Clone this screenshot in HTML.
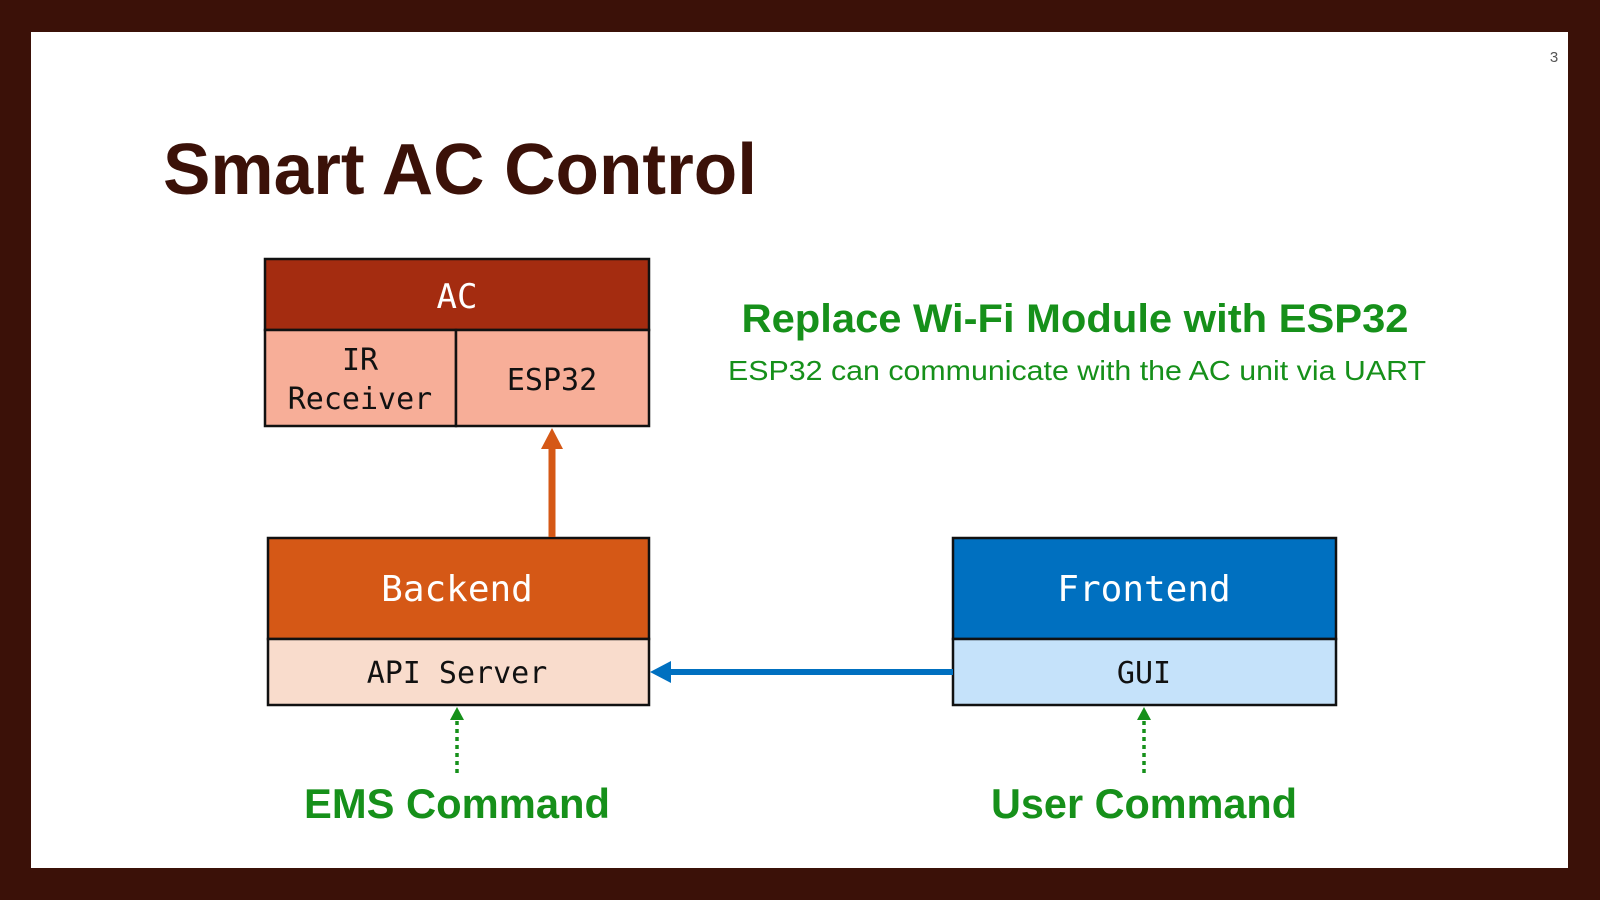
<!DOCTYPE html>
<html><head><meta charset="utf-8"><style>
html,body{margin:0;padding:0;background:#3b1108;}
svg{display:block}
</style></head><body>
<svg width="1600" height="900" viewBox="0 0 1600 900" xmlns="http://www.w3.org/2000/svg">
<rect x="0" y="0" width="1600" height="900" fill="#3b1108"/>
<rect x="31" y="32" width="1537" height="836" fill="#ffffff"/>
<text x="1554" y="62" font-family="Liberation Sans, sans-serif" font-size="15" fill="#555" text-anchor="middle">3</text>
<text x="163" y="194" font-family="Liberation Sans, sans-serif" font-weight="bold" font-size="72" fill="#3b1108" textLength="594" lengthAdjust="spacingAndGlyphs">Smart AC Control</text>

<g font-family="DejaVu Sans Mono, Liberation Mono, monospace" text-anchor="middle">
<rect x="265" y="259" width="384" height="71" fill="#a42c10" stroke="#111" stroke-width="2.5"/>
<rect x="265" y="330" width="191" height="96" fill="#f7ae98" stroke="#111" stroke-width="2.5"/>
<rect x="456" y="330" width="193" height="96" fill="#f7ae98" stroke="#111" stroke-width="2.5"/>
<text x="457" y="308" font-size="34" fill="#fff">AC</text>
<text x="360" y="370" font-size="30" fill="#111">IR</text>
<text x="360" y="409" font-size="30" fill="#111">Receiver</text>
<text x="552" y="390" font-size="30" fill="#111">ESP32</text>
<rect x="268" y="538" width="381" height="101" fill="#d55816" stroke="#111" stroke-width="2.5"/>
<rect x="268" y="639" width="381" height="66" fill="#f9dccc" stroke="#111" stroke-width="2.5"/>
<text x="457" y="601" font-size="36" fill="#fff">Backend</text>
<text x="457" y="683" font-size="30" fill="#111">API Server</text>
<rect x="953" y="538" width="383" height="101" fill="#0070c0" stroke="#111" stroke-width="2.5"/>
<rect x="953" y="639" width="383" height="66" fill="#c5e2fa" stroke="#111" stroke-width="2.5"/>
<text x="1144" y="601" font-size="36" fill="#fff">Frontend</text>
<text x="1144" y="683" font-size="30" fill="#111">GUI</text>
</g>

<line x1="552" y1="537" x2="552" y2="446" stroke="#d55816" stroke-width="7"/>
<polygon points="552,428 541,449 563,449" fill="#d55816"/>
<line x1="953" y1="672" x2="668" y2="672" stroke="#0070c0" stroke-width="6"/>
<polygon points="650,672 671,661 671,683" fill="#0070c0"/>
<line x1="457" y1="773" x2="457" y2="717" stroke="#16901a" stroke-width="3.5" stroke-dasharray="4,4"/>
<polygon points="457,707 450,720 464,720" fill="#16901a"/>
<line x1="1144" y1="773" x2="1144" y2="717" stroke="#16901a" stroke-width="3.5" stroke-dasharray="4,4"/>
<polygon points="1144,707 1137,720 1151,720" fill="#16901a"/>

<g font-family="Liberation Sans, sans-serif" fill="#16901a" text-anchor="middle">
<text x="1075" y="332" font-size="40" font-weight="bold" textLength="667" lengthAdjust="spacingAndGlyphs">Replace Wi-Fi Module with ESP32</text>
<text x="1077" y="380" font-size="28" textLength="698" lengthAdjust="spacingAndGlyphs">ESP32 can communicate with the AC unit via UART</text>
<text x="457" y="818" font-size="42" font-weight="bold" textLength="306" lengthAdjust="spacingAndGlyphs">EMS Command</text>
<text x="1144" y="818" font-size="42" font-weight="bold" textLength="306" lengthAdjust="spacingAndGlyphs">User Command</text>
</g>
</svg>
</body></html>
